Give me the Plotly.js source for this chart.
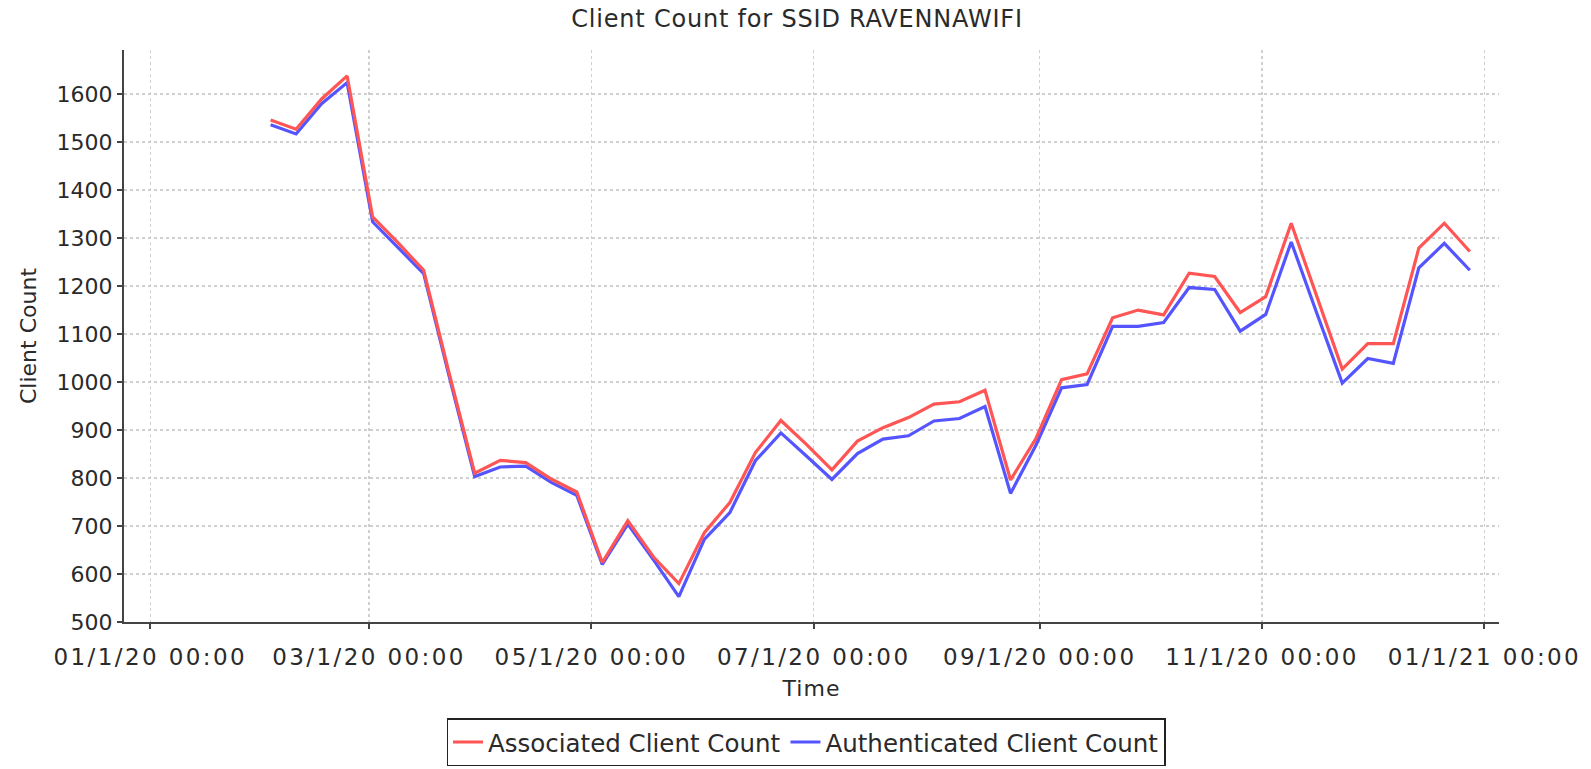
<!DOCTYPE html>
<html>
<head>
<meta charset="utf-8">
<script src="https://cdn.plot.ly/plotly-3.0.1.min.js"></script>
<style>
  html, body { margin: 0; padding: 0; background: #ffffff; }
  #chart { width: 1591px; height: 769px; }
  #chart .xtick text { letter-spacing: 2.4px; }
  #chart .gtitle { letter-spacing: 0.8px; }
  #chart .xtitle { letter-spacing: 1px; }
</style>
</head>
<body>
<div id="chart"></div>
<script>
// Weekly sample dates
const weekDates = [
  "2020-02-03","2020-02-10","2020-02-17","2020-02-24",
  "2020-03-02","2020-03-09","2020-03-16","2020-03-23","2020-03-30",
  "2020-04-06","2020-04-13","2020-04-20","2020-04-27",
  "2020-05-04","2020-05-11","2020-05-18","2020-05-25",
  "2020-06-01","2020-06-08","2020-06-15","2020-06-22","2020-06-29",
  "2020-07-06","2020-07-13","2020-07-20","2020-07-27",
  "2020-08-03","2020-08-10","2020-08-17","2020-08-24","2020-08-31",
  "2020-09-07","2020-09-14","2020-09-21","2020-09-28",
  "2020-10-05","2020-10-12","2020-10-19","2020-10-26",
  "2020-11-02","2020-11-09","2020-11-16","2020-11-23","2020-11-30",
  "2020-12-07","2020-12-14","2020-12-21","2020-12-28"
];

// Associated Client Count (red)
const associatedCounts = [
  1546, 1527, 1590, 1638,
  1344, 1290, 1233, 1018, 810,
  837, 832, 798, 771,
  624, 711, 636, 580,
  686, 749, 853, 920, 870,
  817, 877, 905, 926,
  954, 959, 983, 796, 883,
  1005, 1017, 1134, 1150,
  1140, 1227, 1220, 1145,
  1178, 1331, 1179, 1027, 1080,
  1080, 1279, 1331, 1272
];

// Authenticated Client Count (blue)
const authenticatedCounts = [
  1536, 1517, 1580, 1624,
  1334, 1280, 1226, 1012, 803,
  823, 825, 791, 764,
  620, 704, 630, 553,
  672, 728, 836, 894, 846,
  797, 851, 881, 888,
  919, 924, 949, 768, 869,
  988, 995, 1116, 1116,
  1124, 1197, 1193, 1106,
  1141, 1292, 1144, 998, 1049,
  1039, 1238, 1289, 1233
];

const seriesNames = ["Associated Client Count", "Authenticated Client Count"];
const yTickValues = [500, 600, 700, 800, 900, 1000, 1100, 1200, 1300, 1400, 1500, 1600];

const FONT = "DejaVu Sans, Verdana, sans-serif";
const TXT = "#2a2a2a";

const traces = [
  {
    x: weekDates, y: authenticatedCounts, name: seriesNames[1],
    type: "scatter", mode: "lines",
    line: { color: "#5555ff", width: 3.2 }
  },
  {
    x: weekDates, y: associatedCounts, name: seriesNames[0],
    type: "scatter", mode: "lines",
    line: { color: "#ff5555", width: 3.2 }
  }
];

const layout = {
  width: 1591, height: 769,
  autosize: false,
  margin: { l: 124, r: 92, t: 50, b: 147, pad: 0, autoexpand: false },
  paper_bgcolor: "#ffffff", plot_bgcolor: "#ffffff",
  font: { family: FONT, color: TXT },
  title: {
    text: "Client Count for SSID RAVENNAWIFI",
    font: { family: FONT, size: 24, color: TXT },
    x: 797 / 1591, xref: "container", xanchor: "center",
    y: 1 - 19 / 769, yref: "container", yanchor: "middle"
  },
  xaxis: {
    type: "date",
    range: ["2019-12-24 19:00", "2021-01-05 00:00"],
    tick0: "2020-01-01", dtick: "M2",
    tickformat: "%m/%-d/%y %H:%M",
    tickangle: 0,
    tickfont: { family: FONT, size: 23, color: TXT },
    ticks: "outside", ticklen: 5, tickwidth: 2, tickcolor: "#444",
    ticklabelstandoff: 8,
    showline: true, linecolor: "#444", linewidth: 2,
    showgrid: true, gridcolor: "#cfcfcf", gridwidth: 1.5, griddash: "dot",
    zeroline: false,
    automargin: false,
    title: { text: "Time", font: { family: FONT, size: 22, color: TXT }, standoff: 12 }
  },
  yaxis: {
    range: [500, 1692],
    tickvals: yTickValues,
    tickfont: { family: FONT, size: 22, color: TXT },
    ticks: "outside", ticklen: 5, tickwidth: 2, tickcolor: "#444",
    showline: true, linecolor: "#444", linewidth: 2,
    showgrid: true, gridcolor: "#cfcfcf", gridwidth: 1.5, griddash: "dot",
    zeroline: false,
    automargin: false,
    title: { text: "Client Count", font: { family: FONT, size: 22, color: TXT }, standoff: 14 }
  },
  showlegend: true,
  legend: {
    orientation: "h",
    traceorder: "reversed",
    x: (806 - 124) / 1375, xref: "paper", xanchor: "center",
    y: -0.168, yanchor: "top",
    bordercolor: "#222", borderwidth: 1.5, bgcolor: "#ffffff",
    font: { family: FONT, size: 24.5, color: TXT },
    itemwidth: 30
  }
};

Plotly.newPlot("chart", traces, layout, { displayModeBar: false, staticPlot: true });
</script>
</body>
</html>
